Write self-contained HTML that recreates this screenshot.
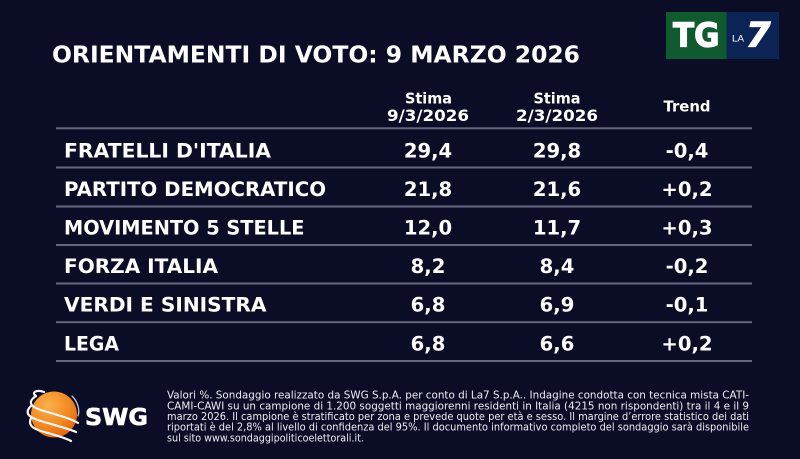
<!DOCTYPE html>
<html>
<head>
<meta charset="utf-8">
<style>
  html,body{margin:0;padding:0;background:#0b0d27;}
  svg{display:block;}
  .b{font-family:"DejaVu Sans","Liberation Sans",sans-serif;font-weight:bold;fill:#ffffff;}
  .f{font-family:"DejaVu Sans","Liberation Sans",sans-serif;fill:#ececf2;font-size:10.5px;}
</style>
</head>
<body>
<svg width="800" height="459" viewBox="0 0 800 459" xmlns="http://www.w3.org/2000/svg">
  <defs>
    <radialGradient id="globe" cx="0.38" cy="0.3" r="0.75">
      <stop offset="0" stop-color="#f9b04a"/>
      <stop offset="0.6" stop-color="#f28a22"/>
      <stop offset="1" stop-color="#e2630f"/>
    </radialGradient>
  </defs>
  <rect x="0" y="0" width="800" height="459" fill="#0b0d27"/>

  <!-- Title -->
  <text class="b" x="52" y="62.5" font-size="23" textLength="528" lengthAdjust="spacingAndGlyphs">ORIENTAMENTI DI VOTO: 9 MARZO 2026</text>

  <!-- TG LA7 logo -->
  <rect x="666" y="12" width="60.5" height="47" fill="#0f5a2f"/>
  <rect x="726.5" y="12" width="52.5" height="47" fill="#0c2455"/>
  <text x="673" y="46.5" font-family="DejaVu Sans, sans-serif" font-weight="bold" font-size="33" fill="#ffffff" stroke="#ffffff" stroke-width="1.2" textLength="46.5" lengthAdjust="spacingAndGlyphs">TG</text>
  <text x="732" y="41.7" font-family="Liberation Sans, sans-serif" font-size="9" fill="#ffffff" textLength="12" lengthAdjust="spacingAndGlyphs">LA</text>
  <text x="746" y="46.7" font-family="DejaVu Sans, sans-serif" font-weight="bold" font-style="italic" font-size="34" fill="#ffffff" stroke="#ffffff" stroke-width="1.2" textLength="24.5" lengthAdjust="spacingAndGlyphs">7</text>

  <!-- Header -->
  <text class="b" x="428.5" y="103.3" font-size="15.5" text-anchor="middle" textLength="47" lengthAdjust="spacingAndGlyphs">Stima</text>
  <text class="b" x="428" y="121" font-size="16" text-anchor="middle" textLength="82" lengthAdjust="spacingAndGlyphs">9/3/2026</text>
  <text class="b" x="557" y="103.3" font-size="15.5" text-anchor="middle" textLength="47" lengthAdjust="spacingAndGlyphs">Stima</text>
  <text class="b" x="557" y="121" font-size="16" text-anchor="middle" textLength="82" lengthAdjust="spacingAndGlyphs">2/3/2026</text>
  <text class="b" x="687" y="111.7" font-size="15.5" text-anchor="middle" textLength="47" lengthAdjust="spacingAndGlyphs">Trend</text>

  <!-- Row lines -->
  <g fill="#62667f">
    <rect x="56" y="127.3" width="696" height="2"/>
    <rect x="56" y="166.5" width="696" height="2"/>
    <rect x="56" y="205.5" width="696" height="2"/>
    <rect x="56" y="244" width="696" height="2"/>
    <rect x="56" y="282.5" width="696" height="2"/>
    <rect x="56" y="321.2" width="696" height="2"/>
    <rect x="56" y="360" width="696" height="2"/>
  </g>

  <!-- Rows -->
  <g class="b" font-size="19.6">
    <text x="64" y="157.3" textLength="207" lengthAdjust="spacingAndGlyphs">FRATELLI D'ITALIA</text>
    <text x="428" y="157.3" text-anchor="middle">29,4</text>
    <text x="557" y="157.3" text-anchor="middle">29,8</text>
    <text x="687" y="157.3" text-anchor="middle">-0,4</text>

    <text x="64" y="196" textLength="262" lengthAdjust="spacingAndGlyphs">PARTITO DEMOCRATICO</text>
    <text x="428" y="196" text-anchor="middle">21,8</text>
    <text x="557" y="196" text-anchor="middle">21,6</text>
    <text x="687" y="196" text-anchor="middle">+0,2</text>

    <text x="64" y="234.7" textLength="240.5" lengthAdjust="spacingAndGlyphs">MOVIMENTO 5 STELLE</text>
    <text x="428" y="234.7" text-anchor="middle">12,0</text>
    <text x="557" y="234.7" text-anchor="middle">11,7</text>
    <text x="687" y="234.7" text-anchor="middle">+0,3</text>

    <text x="64" y="272.9" textLength="154" lengthAdjust="spacingAndGlyphs">FORZA ITALIA</text>
    <text x="428" y="272.9" text-anchor="middle">8,2</text>
    <text x="557" y="272.9" text-anchor="middle">8,4</text>
    <text x="687" y="272.9" text-anchor="middle">-0,2</text>

    <text x="64" y="311.7" textLength="202.5" lengthAdjust="spacingAndGlyphs">VERDI E SINISTRA</text>
    <text x="428" y="311.7" text-anchor="middle">6,8</text>
    <text x="557" y="311.7" text-anchor="middle">6,9</text>
    <text x="687" y="311.7" text-anchor="middle">-0,1</text>

    <text x="64" y="350.3" textLength="55" lengthAdjust="spacingAndGlyphs">LEGA</text>
    <text x="428" y="350.3" text-anchor="middle">6,8</text>
    <text x="557" y="350.3" text-anchor="middle">6,6</text>
    <text x="687" y="350.3" text-anchor="middle">+0,2</text>
  </g>

  <!-- SWG logo -->
  <circle cx="54" cy="414.5" r="23" fill="url(#globe)"/>
  <g fill="none" stroke="#f4f4f4" stroke-width="2.2" stroke-linecap="round">
    <path d="M36,396 C27,402 30,407 44,411 C58,415 72,419 78,423"/>
    <path d="M31,406 C23,414 30,418 44,422 C58,426 70,429 76,432"/>
    <path d="M31,418 C27,427 36,430 48,433 C58,436 66,438 71,441"/>
    <path d="M44,392 C36,389 31,393 36,396"/>
    <path d="M72,396 C78,402 80,410 78,416" stroke-width="1.3" opacity="0.8"/>
  </g>
  <text x="85" y="425" font-family="DejaVu Sans, sans-serif" font-weight="bold" font-size="23" fill="#ffffff" stroke="#ffffff" stroke-width="0.6" textLength="63" lengthAdjust="spacingAndGlyphs">SWG</text>

  <!-- Footer -->
  <g class="f">
    <text x="167" y="398.7" textLength="582" lengthAdjust="spacingAndGlyphs">Valori %. Sondaggio realizzato da SWG S.p.A. per conto di La7 S.p.A.. Indagine condotta con tecnica mista CATI-</text>
    <text x="167" y="409.3" textLength="582" lengthAdjust="spacingAndGlyphs">CAMI-CAWI su un campione di 1.200 soggetti maggiorenni residenti in Italia (4215 non rispondenti) tra il 4 e il 9</text>
    <text x="167" y="420" textLength="582" lengthAdjust="spacingAndGlyphs">marzo 2026. Il campione è stratificato per zona e prevede quote per età e sesso. Il margine d’errore statistico dei dati</text>
    <text x="167" y="430.6" textLength="582" lengthAdjust="spacingAndGlyphs">riportati è del 2,8% al livello di confidenza del 95%. Il documento informativo completo del sondaggio sarà disponibile</text>
    <text x="167" y="441.3" textLength="197" lengthAdjust="spacingAndGlyphs">sul sito www.sondaggipoliticoelettorali.it.</text>
  </g>
</svg>
</body>
</html>
